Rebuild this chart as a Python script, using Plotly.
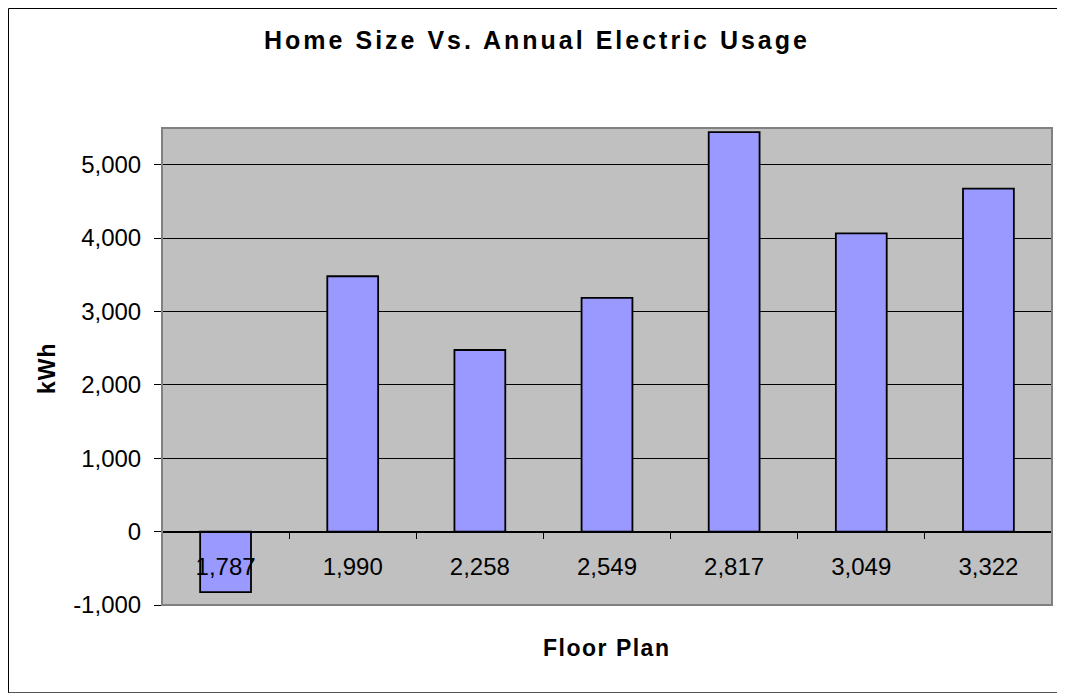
import plotly.graph_objects as go

floor_plans = ["1,787", "1,990", "2,258", "2,549", "2,817", "3,049", "3,322"]
kwh = [-825, 3480, 2475, 3185, 5445, 4065, 4675]

y_tick_vals = [-1000, 0, 1000, 2000, 3000, 4000, 5000]
y_tick_text = ["-1,000", "0", "1,000", "2,000", "3,000", "4,000", "5,000"]

# the page puts the figure 8px in from the top-left corner
OFF = 8
W, H = 1065, 694
L, T = 162 - OFF, 128 - OFF
R = W - (1052 - OFF)
B = H - (605 - OFF)
pw, ph = W - L - R, H - T - B

y_min, y_max = -1000, 5500


def px_x(px):
    # page pixel -> paper x
    return (px - OFF - L) / pw


def px_y(py):
    # page pixel -> paper y
    return (H - B - (py - OFF)) / ph


def spaced(text, sp):
    return f'<b><span style="letter-spacing:{sp}px">{text}</span></b>'


def border_line(fig, x0, y0, x1, y1, color):
    fig.add_shape(type="line", xref="paper", yref="paper",
                  x0=px_x(x0), y0=px_y(y0), x1=px_x(x1), y1=px_y(y1),
                  line=dict(color=color, width=1))


fig = go.Figure()

fig.add_trace(go.Bar(
    x=floor_plans, y=kwh,
    marker=dict(color="#9999FF", line=dict(color="#000000", width=1.8)),
    width=0.4,
    hoverinfo="x+y",
    showlegend=False,
))

# outer chart border (right side falls outside the picture)
border_line(fig, OFF + 0.5, OFF + 0.5, 1080, OFF + 0.5, "#000000")
border_line(fig, OFF + 0.5, OFF + 0.5, OFF + 0.5, 693, "#000000")
border_line(fig, OFF + 0.5, 692.5, 1080, 692.5, "#555555")

# plot area border
fig.add_shape(type="rect", xref="paper", yref="paper",
              x0=0, x1=1, y0=0, y1=1,
              line=dict(color="#808080", width=2))

fig.add_annotation(text=spaced("Floor Plan", 1.5), xref="paper", yref="paper",
                   x=px_x(606), y=px_y(648), showarrow=False,
                   xanchor="center", yanchor="middle",
                   font=dict(size=23, color="#000000"))
fig.add_annotation(text=spaced("kWh", 1), xref="paper", yref="paper",
                   x=px_x(47), y=px_y(368), showarrow=False, textangle=-90,
                   xanchor="center", yanchor="middle",
                   font=dict(size=23, color="#000000"))

fig.update_layout(
    width=W, height=H,
    margin=dict(l=L, r=R, t=T, b=B),
    paper_bgcolor="#FFFFFF",
    plot_bgcolor="#C0C0C0",
    font=dict(family="Liberation Sans, Arial", size=24, color="#000000"),
    title=dict(
        text=spaced("Home Size Vs. Annual Electric Usage", 3),
        x=(537 - OFF) / W, y=1 - (40 - OFF) / H, xanchor="center", yanchor="middle",
        font=dict(size=25, color="#000000"),
    ),
    bargap=0.6,
)

fig.update_xaxes(
    type="category",
    anchor="free",
    position=(0 - y_min) / (y_max - y_min),
    showline=True, linecolor="#000000", linewidth=1,
    ticks="outside", ticklen=6, tickcolor="#000000", tickwidth=1,
    tickson="boundaries",
    ticklabelstandoff=14,
    showgrid=False,
    tickfont=dict(size=24),
)

fig.update_yaxes(
    range=[y_min, y_max],
    tickvals=y_tick_vals, ticktext=y_tick_text,
    showgrid=True, gridcolor="#000000", gridwidth=1,
    zeroline=True, zerolinecolor="#000000", zerolinewidth=1,
    showline=True, linecolor="#000000", linewidth=1,
    ticks="outside", ticklen=7, tickcolor="#000000",
    ticklabelstandoff=8,
    tickfont=dict(size=24),
)

fig.write_html("out.html")
